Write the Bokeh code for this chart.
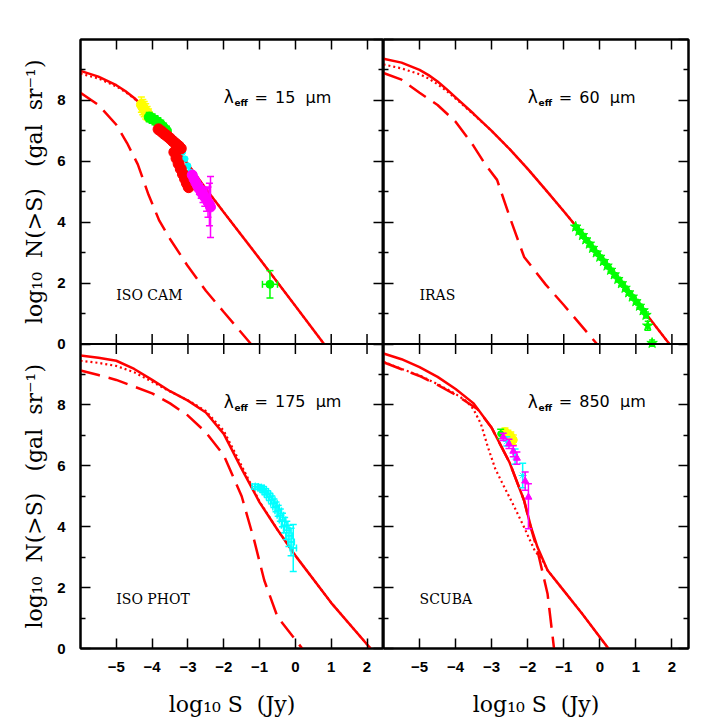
import math
import numpy as np
from bokeh.plotting import figure
from bokeh.models import Range1d, FixedTicker, LinearAxis, Span
from bokeh.layouts import row
from bokeh.embed import file_html
from bokeh.resources import INLINE
from bokeh.core.properties import value

RED, GREEN, YELLOW, CYAN, MAGENTA = "#ff0000", "#00ff00", "#ffff00", "#00ffff", "#ff00ff"

# ---------------- axes ----------------
X_RANGE = (-6.0, 2.46)
Y_RANGE = (0.0, 10.0)
x_ticks = [-5, -4, -3, -2, -1, 0, 1, 2]
y_major = [0, 2, 4, 6, 8]
y_minor = [1, 3, 5, 7, 9]
y_tick_labels = ["0", "2", "4", "6", "8"]
x_title = "log\u2081\u2080 S\u00a0 (Jy)"
y_title = "log\u2081\u2080\u00a0 N(>S)\u00a0\u00a0 (gal\u00a0 sr\u207b\u00b9)"

panel_names = ["ISO CAM", "IRAS", "ISO PHOT", "SCUBA"]
panel_lambda = ["15", "60", "175", "850"]

# ---------------- 15 micron (ISO CAM) ----------------
m15_x = [-6.0, -5.5, -5.0, -4.75, -4.5, -4.25, -4.0, -3.5, -3.0, -2.5, -2.0, -1.0, 0.0, 0.8]
m15_total = [8.97, 8.78, 8.5, 8.31, 8.08, 7.81, 7.5, 6.72, 5.9, 5.1, 4.33, 2.8, 1.25, 0.0]
m15_dot = [8.88, 8.72, 8.46, 8.28, 8.06, 7.8, 7.49, 6.72, 5.9, 5.1, 4.33, 2.8, 1.25, 0.0]
m15_dash_x = [-6.0, -5.5, -5.0, -4.7, -4.4, -4.1, -3.8, -3.5, -3.0, -2.5, -2.0, -1.24]
m15_dash = [8.25, 7.85, 7.2, 6.6, 5.9, 4.9, 4.05, 3.45, 2.55, 1.75, 1.05, 0.0]

d15_yel_x = [-4.30, -4.26, -4.22, -4.18, -4.14, -4.10]
d15_yel_y = [7.86, 7.78, 7.71, 7.64, 7.58, 7.52]
d15_yel_e = [0.25, 0.25, 0.25, 0.25, 0.22, 0.2]
d15_grn_x = [-4.08, -4.0, -3.92, -3.84, -3.76, -3.68, -3.6]
d15_grn_y = [7.45, 7.4, 7.35, 7.28, 7.2, 7.1, 7.0]
d15_grn_e = [0.15, 0.15, 0.15, 0.15, 0.15, 0.15, 0.15]
d15_red_x = [-3.82, -3.74, -3.66, -3.58, -3.5, -3.42, -3.34, -3.26, -3.2,
             -3.38, -3.32, -3.26, -3.2, -3.14, -3.08, -3.03, -2.98]
d15_red_y = [7.05, 6.98, 6.9, 6.83, 6.75, 6.66, 6.58, 6.5, 6.42,
             6.3, 6.1, 5.92, 5.75, 5.58, 5.42, 5.28, 5.15]
d15_red_e = [0.1] * 17
d15_cyn_x = [-3.15, -3.08, -3.0, -2.94, -2.88]
d15_cyn_y = [6.3, 6.08, 5.85, 5.65, 5.5]
d15_mag_x = [-2.88, -2.83, -2.78, -2.73, -2.68, -2.63, -2.58, -2.53, -2.48, -2.44, -2.4, -2.37]
d15_mag_y = [5.55, 5.42, 5.3, 5.19, 5.09, 4.99, 4.9, 4.82, 4.74, 4.66, 4.58, 4.5]
d15_mag_e = [0.1, 0.1, 0.12, 0.15, 0.18, 0.2, 0.25, 0.3, 0.38, 0.5, 0.7, 1.0]
d15_one_x = [-0.71]
d15_one_y = [1.96]
d15_one_xe = [0.21]
d15_one_ye = [0.45]

# ---------------- 60 micron (IRAS) ----------------
m60_x = [-6.0, -5.5, -5.0, -4.75, -4.5, -4.25, -4.0, -3.5, -3.0, -2.5, -2.0, -1.5, -1.0, 0.0, 1.0, 1.93]
m60_total = [9.37, 9.24, 9.0, 8.83, 8.62, 8.37, 8.1, 7.56, 7.0, 6.4, 5.75, 5.06, 4.36, 2.92, 1.42, 0.0]
m60_dot = [9.18, 9.05, 8.86, 8.72, 8.53, 8.31, 8.06, 7.54, 7.0, 6.4, 5.75, 5.06, 4.36, 2.92, 1.42, 0.0]
m60_dash_x = [-6.0, -5.5, -5.0, -4.5, -4.0, -3.5, -3.2, -2.85, -2.47, -2.1, -1.5, -1.0, -0.08]
m60_dash = [8.9, 8.68, 8.25, 7.85, 7.3, 6.5, 5.94, 5.39, 4.07, 2.86, 1.95, 1.28, 0.0]

d60_x = [-0.67, -0.58, -0.48, -0.39, -0.29, -0.2, -0.1, 0.0, 0.1, 0.2, 0.3, 0.4,
         0.5, 0.6, 0.7, 0.8, 0.9, 1.0, 1.1, 1.2, 1.28, 1.33, 1.45]
d60_y = [3.85, 3.71, 3.57, 3.43, 3.29, 3.15, 3.0, 2.86, 2.72, 2.57, 2.43, 2.28,
         2.13, 1.99, 1.84, 1.69, 1.55, 1.4, 1.25, 1.1, 0.95, 0.6, 0.03]
d60_e = [0.06] * 20 + [0.1, 0.15, 0.1]

# ---------------- 175 micron (ISO PHOT) ----------------
m175_x = [-6.0, -5.5, -5.0, -4.5, -4.0, -3.5, -3.0, -2.5, -2.0, -1.5, -1.0, -0.5, 0.0, 1.0, 2.1]
m175_total = [9.62, 9.55, 9.45, 9.18, 8.82, 8.45, 8.14, 7.75, 7.05, 5.9, 4.8, 3.9, 3.05, 1.5, 0.0]
m175_dot = [9.45, 9.38, 9.28, 9.07, 8.76, 8.44, 8.15, 7.8, 7.15, 6.0, 4.82, 3.9, 3.05, 1.5, 0.0]
m175_dash_x = [-6.0, -5.5, -5.0, -4.5, -4.0, -3.5, -3.0, -2.5, -2.0, -1.5, -1.15, -0.87, -0.5, 0.19]
m175_dash = [9.13, 8.98, 8.82, 8.6, 8.38, 8.05, 7.65, 7.1, 6.35, 5.0, 3.55, 2.24, 1.04, 0.0]

d175_x = [-1.12, -1.04, -0.96, -0.9, -0.84, -0.78, -0.72, -0.66, -0.6, -0.54,
          -0.48, -0.42, -0.36, -0.3, -0.24, -0.18, -0.12, -0.06]
d175_y = [5.32, 5.3, 5.27, 5.22, 5.15, 5.07, 4.98, 4.88, 4.77, 4.65,
          4.52, 4.38, 4.22, 4.05, 3.88, 3.7, 3.5, 3.3]
d175_ye = [0.08, 0.08, 0.09, 0.1, 0.1, 0.11, 0.12, 0.13, 0.14, 0.16,
           0.18, 0.2, 0.22, 0.25, 0.3, 0.35, 0.45, 0.77]
d175_xe = [0.09] * 18

# ---------------- 850 micron (SCUBA) ----------------
m850_x = [-6.0, -5.5, -5.0, -4.5, -4.0, -3.5, -3.0, -2.5, -2.1, -1.9, -1.73, -1.45, -1.0, -0.5, 0.24]
m850_total = [9.69, 9.5, 9.24, 8.92, 8.52, 8.05, 7.25, 6.1, 4.86, 3.95, 3.33, 2.57, 1.9, 1.16, 0.0]
m850_dash_x = [-6.0, -5.5, -5.0, -4.5, -4.0, -3.4, -3.0, -2.5, -2.1, -1.92, -1.73, -1.45, -1.27]
m850_dash = [9.4, 9.17, 8.95, 8.66, 8.33, 7.87, 7.25, 6.1, 4.86, 3.99, 3.22, 1.8, 0.0]
m850_dot_x = [-6.0, -5.5, -5.0, -4.5, -4.0, -3.7, -3.5, -3.3, -3.1, -2.9, -2.7, -2.4,
              -2.1, -1.8, -1.6, -1.45, -1.0, -0.5, 0.24]
m850_dot = [9.42, 9.18, 8.97, 8.68, 8.36, 8.12, 7.85, 7.38, 6.6, 5.9, 5.42, 4.72,
            3.98, 3.2, 2.92, 2.57, 1.9, 1.16, 0.0]

d850_grn_x = [-2.75]
d850_grn_y = [7.05]
d850_grn_e = [0.15]
d850_yel_x = [-2.63, -2.55, -2.47, -2.4]
d850_yel_y = [7.12, 7.05, 6.97, 6.85]
d850_yel_e = [0.12, 0.12, 0.14, 0.16]
d850_mag_x = [-2.68, -2.52, -2.4, -2.3, -2.07, -1.98]
d850_mag_y = [6.95, 6.72, 6.48, 6.25, 5.5, 4.97]
d850_mag_lo = [0.12, 0.15, 0.18, 0.2, 0.3, 1.04]
d850_mag_hi = [0.12, 0.15, 0.18, 0.2, 0.3, 0.44]
d850_cyn_x = [-2.58, -2.35, -2.14]
d850_cyn_y = [6.8, 6.3, 5.68]
d850_cyn_e = [0.15, 0.25, 0.4]

# ---------------- text positions (panel coordinates) ----------------
NAME_XY = (-5.0, 1.62)
LAM_XY = (-2.0, 8.1)
EFF_XY = (-1.70, 7.9)
EQ_XY = (-1.14, 8.1)
NUM_XY = (-0.57, 8.1)

TICK_FONT = "Liberation Sans"
SERIF = "DejaVu Serif"
SANS = "DejaVu Sans"

TOP, BOTTOM, HEIGHT = 39, 72, 720


def style_axis(ax, ticks, minor, labels=None):
    ax.ticker = FixedTicker(ticks=ticks, minor_ticks=minor)
    ax.major_tick_in = 10
    ax.major_tick_out = 0
    ax.minor_tick_in = 5
    ax.minor_tick_out = 0
    ax.axis_line_width = 2
    ax.major_tick_line_width = 1.5
    ax.minor_tick_line_width = 1.5
    if labels is None:
        ax.major_label_overrides = {t: "" for t in ticks}
        ax.major_label_text_font_size = "0px"
        ax.major_label_standoff = 0
    else:
        ax.major_label_overrides = labels
        ax.major_label_text_font = TICK_FONT
        ax.major_label_text_font_style = "bold"
        ax.major_label_text_font_size = "15px"
        ax.major_label_text_color = "black"


def make_column(border_left, border_right, frame_w, y_labels):
    p = figure(width=border_left + frame_w + border_right, height=HEIGHT,
               x_range=Range1d(*X_RANGE), y_range=Range1d(0, 2 * Y_RANGE[1]),
               output_backend="svg", toolbar_location=None,
               min_border_left=border_left, min_border_right=border_right,
               min_border_top=TOP, min_border_bottom=BOTTOM)
    p.grid.visible = False
    p.outline_line_color = "black"
    p.outline_line_width = 2
    p.background_fill_color = "white"
    p.border_fill_color = "white"

    y_all = y_major + [v + Y_RANGE[1] for v in y_major] + [2 * Y_RANGE[1]]
    y_all_minor = y_minor + [v + Y_RANGE[1] for v in y_minor]

    xb = p.xaxis[0]
    style_axis(xb, x_ticks, [], {t: ("\u2212%d" % -t if t < 0 else "%d" % t) for t in x_ticks})
    xb.major_label_standoff = 13
    xb.axis_label = x_title
    xb.axis_label_text_font = SERIF
    xb.axis_label_text_font_style = "normal"
    xb.axis_label_text_font_size = "22px"
    xb.axis_label_text_color = "black"
    xb.axis_label_standoff = 17

    yl = p.yaxis[0]
    if y_labels:
        lab_ticks = y_major + [v + Y_RANGE[1] for v in y_major]
        style_axis(yl, lab_ticks, y_all_minor,
                   {t: s for t, s in zip(lab_ticks, y_tick_labels * 2)})
        yl.major_label_standoff = 15
    else:
        style_axis(yl, y_all, y_all_minor)

    ax_top = LinearAxis()
    style_axis(ax_top, x_ticks, [])
    p.add_layout(ax_top, "above")
    ax_right = LinearAxis()
    style_axis(ax_right, y_all, y_all_minor)
    p.add_layout(ax_right, "right")

    # divider between the upper and lower panel, with inward ticks on both sides
    p.add_layout(Span(location=Y_RANGE[1], dimension="width", line_color="black", line_width=2))
    p.ray(x=x_ticks, y=[Y_RANGE[1]] * len(x_ticks), length=10, length_units="screen",
          angle=math.pi / 2, line_color="black", line_width=1.5)
    p.ray(x=x_ticks, y=[Y_RANGE[1]] * len(x_ticks), length=10, length_units="screen",
          angle=-math.pi / 2, line_color="black", line_width=1.5)

    upper = p.subplot(x_source=p.x_range, y_source=Range1d(*Y_RANGE),
                      x_target=p.x_range, y_target=Range1d(Y_RANGE[1], 2 * Y_RANGE[1]))
    lower = p.subplot(x_source=p.x_range, y_source=Range1d(*Y_RANGE),
                      x_target=p.x_range, y_target=Range1d(*Y_RANGE))
    return p, upper, lower


def models(sp, x, total, dot_x, dot, dash_x, dash):
    sp.line(x=dot_x, y=dot, line_color=RED, line_width=2.2, line_dash="2 3")
    sp.line(x=dash_x, y=dash, line_color=RED, line_width=2.5, line_dash="20 9")
    sp.line(x=x, y=total, line_color=RED, line_width=2.5)


def points(sp, x, y, color, marker, size, ylo=None, yhi=None, xerr=None, cap=7):
    x = np.asarray(x, dtype=float)
    y = np.asarray(y, dtype=float)
    if ylo is not None:
        lo = np.asarray(ylo, dtype=float)
        hi = np.asarray(yhi if yhi is not None else ylo, dtype=float)
        sp.segment(x0=x, y0=y - lo, x1=x, y1=y + hi, line_color=color, line_width=1.5)
        sp.scatter(x=np.r_[x, x], y=np.r_[y - lo, y + hi], marker="dash", size=cap,
                   line_color=color, line_width=1.5)
    if xerr is not None:
        xe = np.asarray(xerr, dtype=float)
        sp.segment(x0=x - xe, y0=y, x1=x + xe, y1=y, line_color=color, line_width=1.5)
        sp.scatter(x=np.r_[x - xe, x + xe], y=np.r_[y, y], marker="dash", angle=math.pi / 2,
                   size=cap, line_color=color, line_width=1.5)
    sp.scatter(x=x, y=y, marker=marker, size=size, fill_color=color, line_color=color)


def annotate(sp, name, lam):
    sp.text(x=[NAME_XY[0]], y=[NAME_XY[1]], text=[name], text_font=value(SERIF),
            text_font_size="14px", text_baseline="middle", text_align="left", text_color="black")
    sp.text(x=[LAM_XY[0]], y=[LAM_XY[1]], text=["\u03bb"], text_font=value(SANS),
            text_font_size="17px", text_baseline="middle", text_align="left", text_color="black")
    sp.text(x=[EFF_XY[0]], y=[EFF_XY[1]], text=["eff"], text_font=value(SANS), text_font_style="bold",
            text_font_size="9px", text_baseline="middle", text_align="left", text_color="black")
    sp.text(x=[EQ_XY[0]], y=[EQ_XY[1]], text=["="], text_font=value(SANS),
            text_font_size="16px", text_baseline="middle", text_align="left", text_color="black")
    sp.text(x=[NUM_XY[0]], y=[NUM_XY[1]], text=[lam + "\u00a0 \u03bcm"], text_font=value(SANS),
            text_font_size="16px", text_baseline="middle", text_align="left", text_color="black")


# narrow strip on the left that carries the two y-axis titles
TITLE_W = 54
title_fig = figure(width=TITLE_W, height=HEIGHT, x_range=Range1d(0, TITLE_W),
                   y_range=Range1d(0, 2 * Y_RANGE[1]), output_backend="svg", toolbar_location=None,
                   min_border_left=0, min_border_right=0, min_border_top=TOP, min_border_bottom=BOTTOM,
                   x_axis_type=None, y_axis_type=None)
title_fig.grid.visible = False
title_fig.outline_line_color = None
title_fig.text(x=[34, 34], y=[Y_RANGE[1] * 1.5, Y_RANGE[1] * 0.5], text=[y_title, y_title],
               angle=math.pi / 2, text_align="center", text_baseline="middle",
               text_font=value(SERIF), text_font_size="22px", text_color="black")

left, tl, bl = make_column(79 - TITLE_W, 0, 304, True)
right, tr, br = make_column(0, 20, 305, False)

# 15 micron
models(tl, m15_x, m15_total, m15_x, m15_dot, m15_dash_x, m15_dash)
points(tl, d15_yel_x, d15_yel_y, YELLOW, "circle", 10, d15_yel_e)
points(tl, d15_grn_x, d15_grn_y, GREEN, "circle", 10, d15_grn_e)
points(tl, d15_cyn_x, d15_cyn_y, CYAN, "circle", 6)
points(tl, d15_red_x, d15_red_y, RED, "circle", 11, d15_red_e)
points(tl, d15_mag_x, d15_mag_y, MAGENTA, "circle", 10, d15_mag_e)
points(tl, d15_one_x, d15_one_y, GREEN, "circle", 8, d15_one_ye, None, d15_one_xe)
annotate(tl, panel_names[0], panel_lambda[0])

# 60 micron
models(tr, m60_x, m60_total, m60_x, m60_dot, m60_dash_x, m60_dash)
points(tr, d60_x, d60_y, GREEN, "star", 11, d60_e, cap=6)
annotate(tr, panel_names[1], panel_lambda[1])

# 175 micron
models(bl, m175_x, m175_total, m175_x, m175_dot, m175_dash_x, m175_dash)
points(bl, d175_x, d175_y, CYAN, "cross", 8, d175_ye, None, d175_xe)
annotate(bl, panel_names[2], panel_lambda[2])

# 850 micron
models(br, m850_x, m850_total, m850_dot_x, m850_dot, m850_dash_x, m850_dash)
points(br, d850_yel_x, d850_yel_y, YELLOW, "circle", 8, d850_yel_e)
points(br, d850_grn_x, d850_grn_y, GREEN, "circle", 6, d850_grn_e)
points(br, d850_cyn_x, d850_cyn_y, CYAN, "asterisk", 8, d850_cyn_e)
points(br, d850_mag_x, d850_mag_y, MAGENTA, "triangle", 7, d850_mag_lo, d850_mag_hi)
annotate(br, panel_names[3], panel_lambda[3])

layout = row(title_fig, left, right)
open("out.html", "w").write(file_html(layout, INLINE))
